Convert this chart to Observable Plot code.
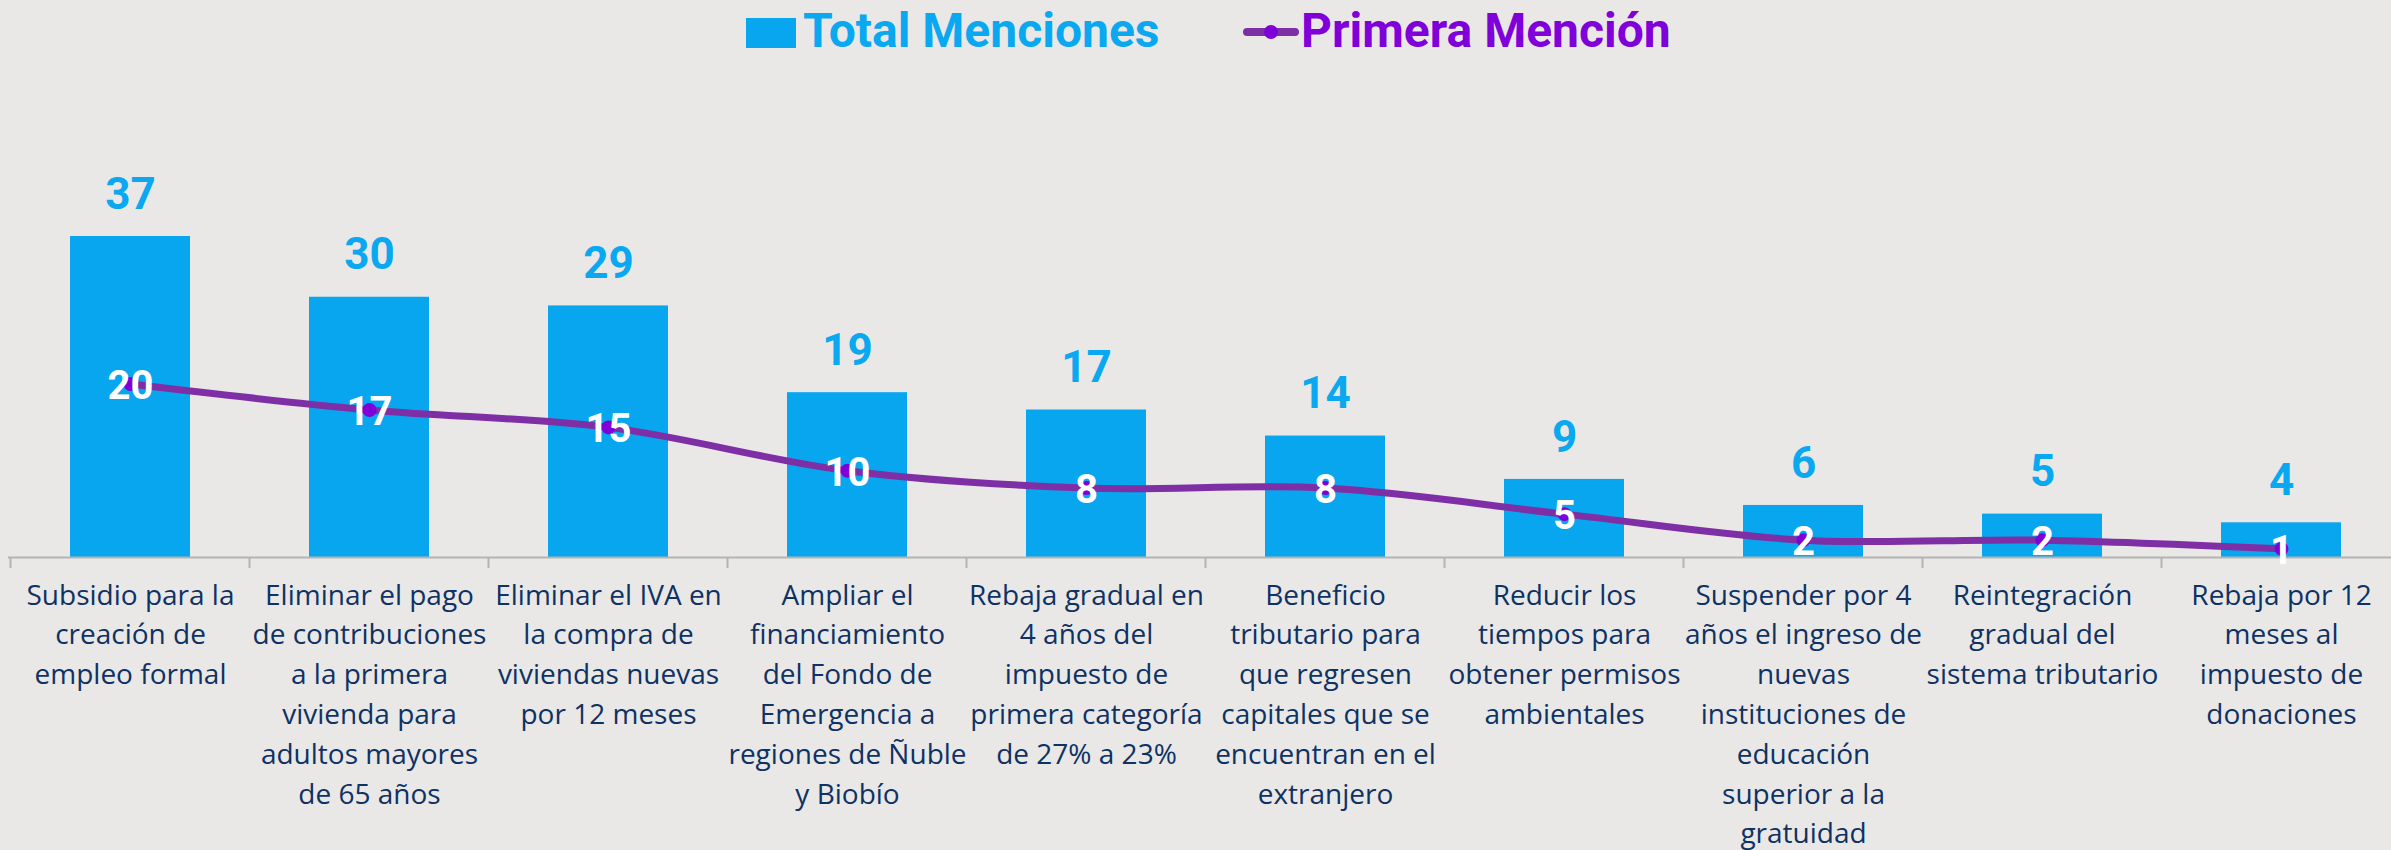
<!DOCTYPE html>
<html>
<head>
<meta charset="utf-8">
<script src="https://cdn.jsdelivr.net/npm/d3@7"></script>
<script src="https://cdn.jsdelivr.net/npm/@observablehq/plot@0.6"></script>
<style>
  html, body { margin: 0; padding: 0; background: #E9E8E6; overflow: hidden; }
  #legend { position: relative; width: 2391px; height: 70px; font-family: Roboto, "Noto Sans", sans-serif; font-weight: 700; }
  #legend .sq { position: absolute; left: 746px; top: 18px; width: 50px; height: 30px; background: #08A6EE; }
  #legend .t1 { position: absolute; left: 803px; top: 3px; font-size: 48px; line-height: 56px; color: #09A8F0; white-space: nowrap; }
  #legend .ln { position: absolute; left: 1243px; top: 28px; width: 56px; height: 8px; background: #7E2FA6; border-radius: 4px; }
  #legend .dot { position: absolute; left: 1264px; top: 25px; width: 14px; height: 14px; background: #7F00D8; border-radius: 50%; }
  #legend .t2 { position: absolute; left: 1301px; top: 3px; font-size: 48px; line-height: 56px; color: #7F00D9; white-space: nowrap; }
  #chart svg { display: block; }
</style>
</head>
<body>
<div id="legend">
  <div class="sq"></div><div class="t1">Total Menciones</div>
  <div class="ln"></div><div class="dot"></div><div class="t2">Primera Mención</div>
</div>
<div id="chart"></div>
<script>
const categories = [
  "Subsidio creación de empleo formal",
  "Eliminar contribuciones primera vivienda",
  "Eliminar IVA viviendas nuevas",
  "Ampliar Fondo de Emergencia",
  "Rebaja impuesto primera categoría",
  "Beneficio tributario capitales",
  "Reducir tiempos permisos ambientales",
  "Suspender ingreso a la gratuidad",
  "Reintegración sistema tributario",
  "Rebaja impuesto de donaciones"
];
const tickLabels = [
  "Subsidio para la\ncreación de\nempleo formal",
  "Eliminar el pago\nde contribuciones\na la primera\nvivienda para\nadultos mayores\nde 65 años",
  "Eliminar el IVA en\nla compra de\nviviendas nuevas\npor 12 meses",
  "Ampliar el\nfinanciamiento\ndel Fondo de\nEmergencia a\nregiones de Ñuble\ny Biobío",
  "Rebaja gradual en\n4 años del\nimpuesto de\nprimera categoría\nde 27% a 23%",
  "Beneficio\ntributario para\nque regresen\ncapitales que se\nencuentran en el\nextranjero",
  "Reducir los\ntiempos para\nobtener permisos\nambientales",
  "Suspender por 4\naños el ingreso de\nnuevas\ninstituciones de\neducación\nsuperior a la\ngratuidad",
  "Reintegración\ngradual del\nsistema tributario",
  "Rebaja por 12\nmeses al\nimpuesto de\ndonaciones"
];
const totalMenciones = [37, 30, 29, 19, 17, 14, 9, 6, 5, 4];
const primeraMencion = [20, 17, 15, 10, 8, 8, 5, 2, 2, 1];

const data = categories.map((c, i) => ({
  cat: c, label: tickLabels[i], total: totalMenciones[i], primera: primeraMencion[i]
}));

const BLUE = "#08A6EE";
const PURPLE_LINE = "#7E2FA6";
const PURPLE_DOT = "#7F00D8";
const NAVY = "#0E3264";

function bandBoundaryTicks(...args) {
  // render signature: (index, scales, values, dimensions, context)
  const scales = args.length >= 4 ? args[1] : args[0];
  const x = scales.x, y = scales.y;
  const step = x(categories[1]) - x(categories[0]);
  const pad = (step - x.bandwidth()) / 2;
  const y0 = y(0);
  const g = d3.create("svg:g").attr("stroke", "#B4B4B4").attr("stroke-width", 2);
  categories.forEach(c => {
    const xb = x(c) - pad;
    g.append("line").attr("x1", xb).attr("x2", xb).attr("y1", y0).attr("y2", y0 + 11);
  });
  return g.node();
}

const chart = Plot.plot({
  width: 2391,
  height: 780,
  marginLeft: 8,
  marginRight: -11,
  marginTop: 140,
  marginBottom: 293,
  style: { background: "transparent", fontFamily: "Roboto, 'Noto Sans', sans-serif", overflow: "visible" },
  x: { domain: categories, paddingInner: 0.5, paddingOuter: 0.25, axis: null },
  y: { domain: [0, 40], axis: null },
  marks: [
    Plot.barY(data, { x: "cat", y: "total", fill: BLUE }),
    Plot.ruleY([0], { stroke: "#B4B4B4", strokeWidth: 2 }),
    bandBoundaryTicks,
    Plot.line(data, { x: "cat", y: "primera", curve: "catmull-rom", stroke: PURPLE_LINE, strokeWidth: 7 }),
    Plot.dot(data, { x: "cat", y: "primera", r: 7, fill: PURPLE_DOT }),
    Plot.text(data, { x: "cat", y: "total", text: d => String(d.total), dy: -42, fill: "#09A8F0", fontSize: 44, fontWeight: 700 }),
    Plot.text(data, { x: "cat", y: "primera", text: d => String(d.primera), dy: 2, fill: "white", fontSize: 40, fontWeight: 700 }),
    Plot.text(data, { x: "cat", y: () => 0, text: "label", lineAnchor: "top", dy: 19, fill: NAVY, fontSize: 28, lineHeight: 1.42, fontFamily: "'Open Sans', Roboto, sans-serif" })
  ]
});
document.getElementById("chart").appendChild(chart);
</script>
</body>
</html>
